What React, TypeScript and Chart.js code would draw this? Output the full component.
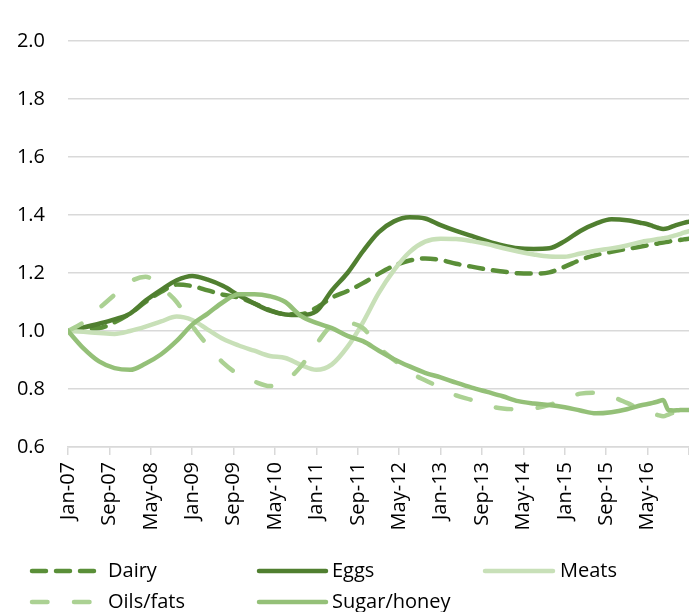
import React, { useEffect, useRef } from "react";
import { Chart, registerables } from "chart.js";
Chart.register(...registerables);

// Month index from Jan-2007 (0) — quarterly, then monthly at the end
const monthIndex = [
  0, 3, 6, 9, 12, 15, 18, 21, 24, 27, 30, 33, 36, 39, 42, 45, 48, 51, 54, 57,
  60, 63, 66, 69, 72, 75, 78, 81, 84, 87, 90, 93, 96, 99, 102, 105, 108, 111,
  112, 113, 114, 115, 116, 117, 118, 119, 120,
];

const dairy = [
  1.0, 1.008, 1.01, 1.03, 1.06, 1.1, 1.135, 1.16, 1.155, 1.14, 1.125, 1.115,
  1.095, 1.072, 1.058, 1.058, 1.08, 1.115, 1.138, 1.165, 1.197, 1.225, 1.243,
  1.25, 1.245, 1.232, 1.222, 1.212, 1.205, 1.199, 1.198, 1.202, 1.222, 1.245,
  1.262, 1.273, 1.283, 1.292, 1.295, 1.298, 1.302, 1.305, 1.308, 1.311, 1.313,
  1.316, 1.318,
];

const eggs = [
  1.0, 1.012, 1.025, 1.04, 1.06, 1.105, 1.142, 1.175, 1.19, 1.177, 1.155,
  1.123, 1.095, 1.07, 1.057, 1.055, 1.068, 1.14, 1.2, 1.275, 1.34, 1.378,
  1.392, 1.388, 1.365, 1.345, 1.328, 1.31, 1.295, 1.285, 1.283, 1.285, 1.31,
  1.345, 1.37, 1.385, 1.382, 1.372, 1.368, 1.362, 1.356, 1.352, 1.355, 1.362,
  1.368, 1.373, 1.377,
];

const meats = [
  1.0, 0.997, 0.993, 0.99, 1.0, 1.015, 1.033, 1.05, 1.038, 1.005, 0.972, 0.95,
  0.932, 0.914, 0.907, 0.883, 0.866, 0.885, 0.945, 1.03, 1.13, 1.21, 1.272,
  1.308, 1.318, 1.317, 1.31, 1.3, 1.286, 1.274, 1.264, 1.257, 1.256, 1.267,
  1.277, 1.285, 1.295, 1.308, 1.311, 1.314, 1.317, 1.32, 1.323, 1.328, 1.333,
  1.339, 1.344,
];

const oilsFats = [
  1.0, 1.03, 1.078, 1.125, 1.17, 1.187, 1.15, 1.1, 1.018, 0.95, 0.89, 0.85,
  0.826, 0.81, 0.827, 0.878, 0.955, 1.018, 1.027, 1.01, 0.945, 0.9, 0.858,
  0.83, 0.805, 0.778, 0.762, 0.742, 0.733, 0.73, 0.733, 0.745, 0.765, 0.784,
  0.787, 0.774, 0.752, 0.728, 0.722, 0.716, 0.71, 0.706, 0.712, 0.718, 0.72,
  0.72, 0.72,
];

const sugarHoney = [
  1.0, 0.94, 0.895, 0.872, 0.866, 0.888, 0.92, 0.966, 1.022, 1.06, 1.1, 1.127,
  1.127, 1.12, 1.1, 1.052, 1.028, 1.01, 0.983, 0.965, 0.933, 0.903, 0.878,
  0.856, 0.84, 0.822, 0.805, 0.79, 0.775, 0.758, 0.75, 0.745, 0.737, 0.726,
  0.716, 0.72, 0.73, 0.745, 0.748, 0.752, 0.757, 0.762, 0.728, 0.726, 0.727,
  0.728, 0.728,
];

const seriesNames = ["Dairy", "Eggs", "Meats", "Oils/fats", "Sugar/honey"];
const seriesValues = [dairy, eggs, meats, oilsFats, sugarHoney];

const xTickLabels = [
  "Jan-07", "Sep-07", "May-08", "Jan-09", "Sep-09", "May-10", "Jan-11",
  "Sep-11", "May-12", "Jan-13", "Sep-13", "May-14", "Jan-15", "Sep-15",
  "May-16",
];

const FONT = "'Open Sans', sans-serif";
const LINE_W = 4.5;
const seriesStyles = [
  { color: "#5A8F38", dash: [14, 10] },
  { color: "#507F30", dash: [] as number[] },
  { color: "#C8E0B8", dash: [] as number[] },
  { color: "#ABD193", dash: [15.5, 26.5] },
  { color: "#94C078", dash: [] as number[] },
];

const legendPlugin = {
  id: "customLegend",
  afterDraw(chart: any) {
    const ctx = chart.ctx as CanvasRenderingContext2D;
    const rows = [571, 602];
    const cols = [
      { x0: 32, x1: 95, tx: 108 },
      { x0: 259, x1: 326, tx: 332 },
      { x0: 485, x1: 553, tx: 560 },
    ];
    ctx.save();
    seriesNames.forEach((name, i) => {
      const r = Math.floor(i / 3);
      const c = cols[i % 3];
      const y = rows[r];
      const st = seriesStyles[i];
      ctx.beginPath();
      ctx.strokeStyle = st.color;
      ctx.lineWidth = LINE_W;
      ctx.lineCap = "round";
      ctx.setLineDash(st.dash);
      ctx.moveTo(c.x0, y);
      ctx.lineTo(c.x1, y);
      ctx.stroke();
      ctx.setLineDash([]);
      ctx.fillStyle = "#000";
      ctx.font = `20px ${FONT}`;
      ctx.textBaseline = "middle";
      ctx.textAlign = "left";
      ctx.fillText(name, c.tx, y);
    });
    ctx.restore();
  },
};

export default function App() {
  const ref = useRef<HTMLCanvasElement | null>(null);
  useEffect(() => {
    if (!ref.current) return;
    const datasets = seriesNames.map((name, i) => ({
      label: name,
      data: monthIndex.map((m, j) => ({ x: m, y: seriesValues[i][j] })),
      borderColor: seriesStyles[i].color,
      backgroundColor: seriesStyles[i].color,
      borderWidth: LINE_W,
      borderDash: seriesStyles[i].dash,
      borderCapStyle: "round" as const,
      borderJoinStyle: "round" as const,
      pointRadius: 0,
      cubicInterpolationMode: "monotone" as const,
      order: seriesNames.length - i,
    }));
    const chart = new Chart(ref.current, {
      type: "line",
      data: { datasets },
      plugins: [legendPlugin],
      options: {
        animation: false,
        responsive: false,
        layout: { padding: { left: 0, right: 24.4, top: 41, bottom: 93 } },
        plugins: { legend: { display: false }, tooltip: { enabled: false } },
        scales: {
          x: {
            type: "linear",
            min: 0,
            max: 120,
            afterFit: (s: any) => {
              s.height = 100;
            },
            ticks: {
              stepSize: 8,
              autoSkip: false,
              minRotation: 90,
              maxRotation: 90,
              padding: 7,
              color: "#000",
              font: { family: FONT, size: 20 },
              callback: (v: any) => xTickLabels[Math.round(Number(v) / 8)] ?? "",
            },
            grid: {
              drawOnChartArea: false,
              drawTicks: true,
              tickLength: 8,
              color: "#D9D9D9",
              lineWidth: 1.5,
            },
            border: { display: true, color: "#D9D9D9", width: 1.5 },
          },
          y: {
            min: 0.6,
            max: 2.0,
            afterFit: (s: any) => {
              s.width = 68;
            },
            ticks: {
              stepSize: 0.2,
              padding: 23,
              color: "#000",
              font: { family: FONT, size: 20 },
              callback: (v: any) => Number(v).toFixed(1),
            },
            grid: { drawTicks: false, color: "#D9D9D9", lineWidth: 1.5 },
            border: { display: false },
          },
        },
      },
    });
    return () => chart.destroy();
  }, []);
  return (
    <div
      style={{
        position: "absolute",
        left: 0,
        top: 0,
        width: 689,
        height: 612,
        overflow: "hidden",
        background: "#fff",
      }}
    >
      <canvas ref={ref} width={720} height={640} style={{ width: 720, height: 640 }} />
    </div>
  );
}
